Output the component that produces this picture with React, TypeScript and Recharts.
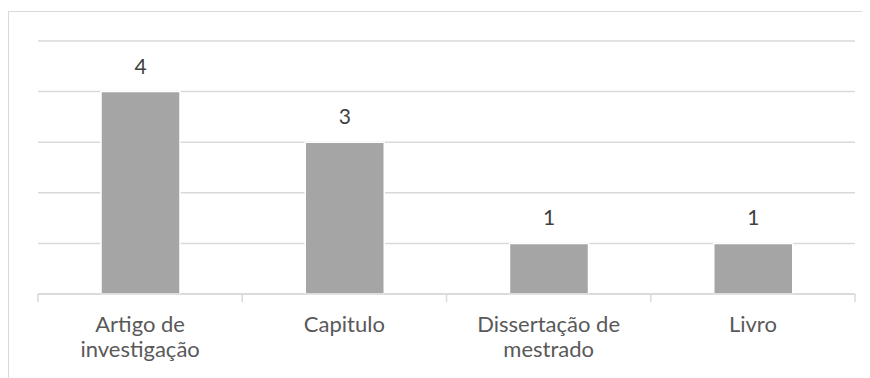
import React from 'react';
import { BarChart, Bar, XAxis, YAxis, CartesianGrid, LabelList } from 'recharts';

const categories = ['Artigo de investigação', 'Capitulo', 'Dissertação de mestrado', 'Livro'];
const counts = [4, 3, 1, 1];
const yTicks = [0, 1, 2, 3, 4, 5];

const FONT = 'Lato, "Noto Sans", sans-serif';
const GRID = '#d9d9d9';
const TEXT = '#595959';
const WRAP_CHARS = 15;

const chartData = categories.map((name, i) => ({ name, value: counts[i] }));

// greedy word wrap by character count
const wrap = (label: string) => {
  const lines: string[] = [];
  let cur = '';
  label.split(' ').forEach((w) => {
    const next = cur ? `${cur} ${w}` : w;
    if (next.length > WRAP_CHARS && cur) {
      lines.push(cur);
      cur = w;
    } else {
      cur = next;
    }
  });
  if (cur) lines.push(cur);
  return lines;
};

// Category label plus the small tick marks that sit on the band edges
const CategoryTick = (props: any) => {
  const { x, y, payload, index, visibleTicksCount } = props;
  const half = payload?.offset ?? 102;
  const isLast = index === (visibleTicksCount ?? categories.length) - 1;
  const lines = wrap(String(payload.value));
  return (
    <g>
      <line x1={x - half} x2={x - half} y1={y} y2={y + 8} stroke={GRID} strokeWidth={1.5} />
      {isLast && <line x1={x + half} x2={x + half} y1={y} y2={y + 8} stroke={GRID} strokeWidth={1.5} />}
      <text x={x} y={y + 38} textAnchor="middle" fontSize={22} fontFamily={FONT} fill={TEXT}>
        {lines.map((l, i) => (
          <tspan key={i} x={x} dy={i === 0 ? 0 : 25}>
            {l}
          </tspan>
        ))}
      </text>
    </g>
  );
};

export default function App() {
  return (
    <div style={{ position: 'relative', left: -8, top: -8, width: 870, height: 378, overflow: 'hidden', background: '#fff' }}>
      <div
        style={{
          position: 'absolute',
          left: 8,
          top: 11,
          width: 900,
          height: 400,
          borderLeft: `1px solid ${GRID}`,
          borderTop: `1px solid ${GRID}`,
        }}
      />
      <div style={{ position: 'absolute', left: 0, top: 0 }}>
        <BarChart width={870} height={378} data={chartData} margin={{ top: 41, right: 15, bottom: 0, left: 38 }}>
          <CartesianGrid vertical={false} stroke={GRID} strokeWidth={1.5} />
          <YAxis hide domain={[0, 5]} ticks={yTicks} width={0} />
          <XAxis
            dataKey="name"
            height={84}
            axisLine={{ stroke: GRID, strokeWidth: 1.5 }}
            tickLine={false}
            tickSize={0}
            tickMargin={0}
            interval={0}
            tick={<CategoryTick />}
          />
          <Bar dataKey="value" fill="#a5a5a5" stroke="#ffffff" strokeWidth={1.5} barSize={79} isAnimationActive={false}>
            <LabelList
              dataKey="value"
              position="top"
              offset={18}
              fontSize={21}
              fontFamily={FONT}
              fill="#404040"
            />
          </Bar>
        </BarChart>
      </div>
    </div>
  );
}
